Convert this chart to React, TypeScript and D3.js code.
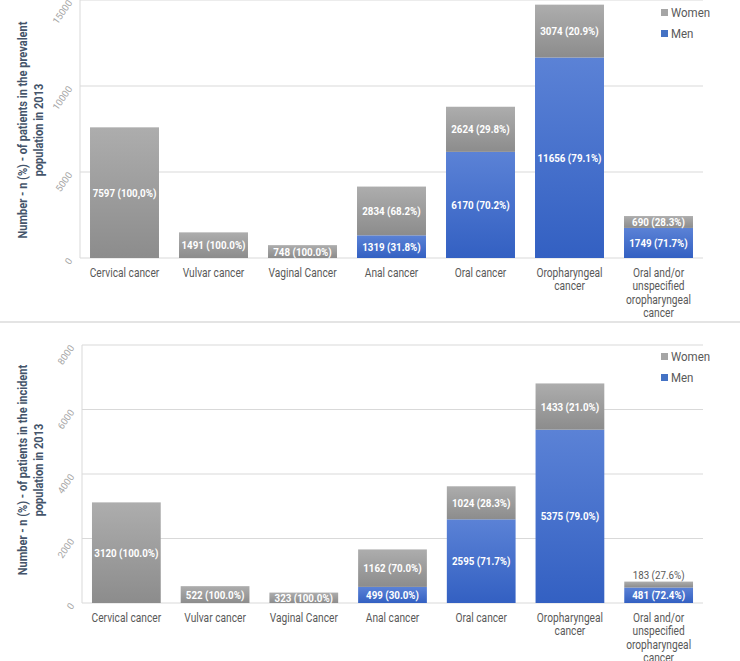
import React, { useEffect, useRef } from 'react'
import * as d3 from 'd3'

const categories = [
  'Cervical cancer',
  'Vulvar cancer',
  'Vaginal Cancer',
  'Anal cancer',
  'Oral cancer',
  'Oropharyngeal cancer',
  'Oral and/or unspecified oropharyngeal cancer',
]

// prevalent population, 2013
const prevalentMen = [0, 0, 0, 1319, 6170, 11656, 1749]
const prevalentWomen = [7597, 1491, 748, 2834, 2624, 3074, 690]
const prevalentMenPct = ['', '', '', '31.8%', '70.2%', '79.1%', '71.7%']
const prevalentWomenPct = ['100,0%', '100.0%', '100.0%', '68.2%', '29.8%', '20.9%', '28.3%']
const prevalentTicks = [0, 5000, 10000, 15000]

// incident population, 2013
const incidentMen = [0, 0, 0, 499, 2595, 5375, 481]
const incidentWomen = [3120, 522, 323, 1162, 1024, 1433, 183]
const incidentMenPct = ['', '', '', '30.0%', '71.7%', '79.0%', '72.4%']
const incidentWomenPct = ['100.0%', '100.0%', '100.0%', '70.0%', '28.3%', '21.0%', '27.6%']
const incidentTicks = [0, 2000, 4000, 6000, 8000]

const seriesNames = ['Women', 'Men']

const FONT = 'Roboto, sans-serif'
// Roboto is wider than the Calibri of the original, squeeze it a bit
const SQUEEZE = 0.85

const panels = [
  {
    men: prevalentMen, women: prevalentWomen, menPct: prevalentMenPct, womenPct: prevalentWomenPct,
    ticks: prevalentTicks,
    title: ['Number - n (%) - of patients in the prevalent', 'population in 2013'],
    top: 0, bottom: 258, left: 80, titleY: 130, legendY: 13,
  },
  {
    men: incidentMen, women: incidentWomen, menPct: incidentMenPct, womenPct: incidentWomenPct,
    ticks: incidentTicks,
    title: ['Number - n (%) - of patients in the incident', 'population in 2013'],
    top: 345, bottom: 603, left: 82, titleY: 470, legendY: 357,
  },
]

const App = () => {
  const ref = useRef<SVGSVGElement>(null)

  useEffect(() => {
    const svg = d3.select(ref.current)
    svg.selectAll('*').remove()
    const width = 740
    const right = 703

    const defs = svg.append('defs')
    const grad = (id: string, c1: string, c2: string) => {
      const g = defs.append('linearGradient').attr('id', id)
        .attr('x1', 0).attr('y1', 0).attr('x2', 0).attr('y2', 1)
      g.append('stop').attr('offset', '0%').attr('stop-color', c1)
      g.append('stop').attr('offset', '100%').attr('stop-color', c2)
    }
    grad('gWomen', '#ADADAD', '#8C8C8C')
    grad('gMen', '#5B82D6', '#3360C2')

    // separator between the two charts
    svg.append('line')
      .attr('x1', 0).attr('x2', width).attr('y1', 322).attr('y2', 322)
      .attr('stroke', '#E4E4E4').attr('stroke-width', 2)

    panels.forEach((p) => {
      const g = svg.append('g')
      const x = d3.scaleBand<string>()
        .domain(categories)
        .range([p.left, right])
        .paddingInner(0.225)
        .paddingOuter(0.1125)
      const y = d3.scaleLinear()
        .domain([0, p.ticks[p.ticks.length - 1]])
        .range([p.bottom, p.top])

      // gridlines
      g.selectAll('.grid')
        .data(p.ticks)
        .join('line')
        .attr('x1', p.left).attr('x2', right)
        .attr('y1', (d) => y(d)).attr('y2', (d) => y(d))
        .attr('stroke', '#D9D9D9').attr('stroke-width', 1)
      g.append('line')
        .attr('x1', p.left).attr('x2', p.left)
        .attr('y1', p.top).attr('y2', p.bottom)
        .attr('stroke', '#D9D9D9')

      // tick labels (rotated)
      g.selectAll('.tick')
        .data(p.ticks)
        .join('text')
        .attr('transform', (d) => `translate(${p.left - 10},${y(d) + 1}) rotate(-55)`)
        .attr('text-anchor', 'end')
        .attr('dy', '0.35em')
        .attr('font-family', FONT)
        .attr('font-size', 9.5)
        .attr('fill', '#A6A6A6')
        .text((d) => d)

      // axis title
      p.title.forEach((line, i) => {
        g.append('text')
          .attr('transform', `translate(${22 + i * 16},${p.titleY}) rotate(-90) scale(${SQUEEZE},1)`)
          .attr('text-anchor', 'middle')
          .attr('dy', '0.35em')
          .attr('font-family', FONT)
          .attr('font-weight', 'bold')
          .attr('font-size', 13)
          .attr('fill', '#44546A')
          .text(line)
      })

      // bars
      categories.forEach((c, i) => {
        const bx = x(c) as number
        const bw = x.bandwidth()
        const cx = bx + bw / 2
        const m = p.men[i]
        const w = p.women[i]
        if (m > 0) {
          g.append('rect')
            .attr('x', bx).attr('width', bw)
            .attr('y', y(m)).attr('height', y(0) - y(m))
            .attr('fill', 'url(#gMen)')
        }
        g.append('rect')
          .attr('x', bx).attr('width', bw)
          .attr('y', y(m + w)).attr('height', y(m) - y(m + w))
          .attr('fill', 'url(#gWomen)')

        const label = (v: number, pct: string, y0: number, y1: number) => {
          const inside = y0 - y1 > 9
          const ly = inside ? (y0 + y1) / 2 : y1 - 7
          g.append('text')
            .attr('transform', `translate(${cx},${ly}) scale(${SQUEEZE},1)`)
            .attr('dy', '0.35em')
            .attr('text-anchor', 'middle')
            .attr('font-family', FONT)
            .attr('font-size', 11.5)
            .attr('font-weight', inside ? 'bold' : 'normal')
            .attr('fill', inside ? '#FFFFFF' : '#595959')
            .text(`${v} (${pct})`)
        }
        if (m > 0) label(m, p.menPct[i], y(0), y(m))
        label(w, p.womenPct[i], y(m), y(m + w))

        // category label, wrapped to the band
        const t = g.append('text')
          .attr('transform', `translate(${cx},${p.bottom + 15}) scale(${SQUEEZE},1)`)
          .attr('text-anchor', 'middle')
          .attr('font-family', FONT)
          .attr('font-size', 12)
          .attr('fill', '#595959')
        const words = c.split(' ')
        let line: string[] = []
        let n = 0
        let ts = t.append('tspan').attr('x', 0).attr('y', 0).attr('dy', '0.35em')
        words.forEach((word) => {
          line.push(word)
          ts.text(line.join(' '))
          const len = (ts.node() as SVGTSpanElement).getComputedTextLength() * SQUEEZE
          if (len > 84 && line.length > 1) {
            line.pop()
            ts.text(line.join(' '))
            line = [word]
            n += 1
            ts = t.append('tspan').attr('x', 0)
              .attr('y', n * 13.3).attr('dy', '0.35em').text(word)
          }
        })
      })

      // legend
      seriesNames.forEach((s, i) => {
        const ly = p.legendY + i * 21
        g.append('rect')
          .attr('x', 661).attr('y', ly - 4).attr('width', 7).attr('height', 7)
          .attr('fill', i === 0 ? '#A5A5A5' : '#4472C4')
        g.append('text')
          .attr('x', 671).attr('y', ly).attr('dy', '0.35em')
          .attr('font-family', FONT)
          .attr('font-size', 12.5)
          .attr('transform-origin', `671px ${ly}px`)
          .attr('transform', 'scale(0.92,1)')
          .attr('fill', '#595959')
          .text(s)
      })
    })
  }, [])

  return (
    <svg
      ref={ref}
      width={740}
      height={661}
      style={{ position: 'absolute', left: 0, top: 0, background: '#fff' }}
    />
  )
}

export default App
